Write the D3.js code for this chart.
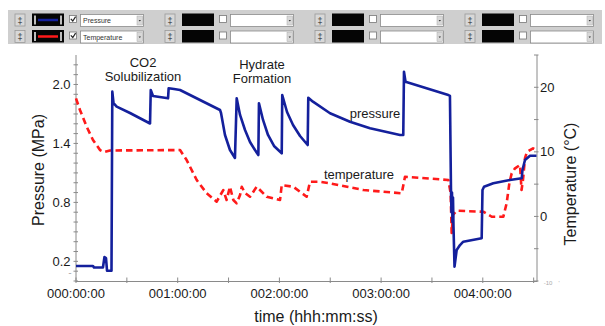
<!DOCTYPE html>
<html>
<head>
<meta charset="utf-8">
<script src="https://cdn.jsdelivr.net/npm/d3@7"></script>
<style>
  body { margin: 0; background: #fff; }
  svg { display: block; font-family: "Liberation Sans", Arial, sans-serif; }
</style>
</head>
<body>
<svg id="chart" width="605" height="326"></svg>
<script>
// pressure trace: hours, MPa
const pressureTime = [0, 0.167, 0.177, 0.265, 0.280, 0.295, 0.305, 0.349, 0.357, 0.369, 0.40, 0.531, 0.728,
  0.735, 0.757, 0.905, 0.911, 0.964, 1.023, 1.416, 1.426, 1.465, 1.514, 1.563,
  1.580, 1.613, 1.662, 1.711, 1.760, 1.793,
  1.799, 1.839, 1.888, 1.947, 2.023,
  2.028, 2.075, 2.134, 2.203, 2.278,
  2.284, 2.330, 2.498, 2.694, 2.891, 3.186, 3.218,
  3.225, 3.240, 3.661, 3.677, 3.687, 3.692, 3.697, 3.702, 3.707, 3.712, 3.722,
  3.743, 3.776, 3.808, 3.989, 3.997, 4.012, 4.103, 4.267, 4.383, 4.390, 4.415, 4.464, 4.528];
const pressureVal = [0.153, 0.153, 0.137, 0.137, 0.244, 0.234, 0.105, 0.105, 1.927, 1.81, 1.774, 1.71, 1.603,
  1.944, 1.883, 1.859, 1.961, 1.954, 1.944, 1.74, 1.71, 1.486, 1.333, 1.252,
  1.86, 1.69, 1.537, 1.415, 1.333, 1.282,
  1.809, 1.639, 1.486, 1.374, 1.30,
  1.893, 1.72, 1.588, 1.476, 1.384,
  1.865, 1.825, 1.707, 1.621, 1.554, 1.486, 1.486,
  2.13, 2.028, 1.893, 1.883, 0.946, 0.70, 0.90, 0.60, 0.85, 0.55, 0.146,
  0.315, 0.366, 0.40, 0.435, 0.926, 0.96, 0.994, 1.028, 1.045, 1.13, 1.231, 1.275, 1.275];

// temperature trace: hours, deg C
const tempTime = [0, 0.039, 0.105, 0.167, 0.236, 0.275, 0.334, 1.023, 1.088, 1.187, 1.285, 1.383,
  1.448, 1.481, 1.514, 1.547, 1.580, 1.613, 1.630, 1.662, 1.711, 1.777, 1.809, 1.875, 2.006,
  2.023, 2.137, 2.268, 2.301, 2.398, 2.498, 2.825, 3.203, 3.235, 3.661, 3.684, 3.694, 3.707,
  3.743, 4.005, 4.088, 4.202, 4.235, 4.261, 4.284, 4.317, 4.366, 4.381, 4.395, 4.415, 4.435, 4.494, 4.528];
const tempVal = [18.29, 16.48, 13.89, 11.83, 10.28, 9.97, 10.21, 10.28, 8.73, 5.64, 3.58, 2.28,
  4.09, 2.54, 4.60, 2.54, 2.03, 3.31, 4.60, 3.62, 3.05, 4.60, 4.09, 3.05, 2.54,
  4.86, 4.60, 3.05, 5.37, 5.37, 5.13, 4.09, 3.58, 6.15, 5.64, 3.58, -2.57, 0.22,
  0.88, 0.73, -0.05, -0.05, 2.08, 5.13, 6.67, 7.45, 7.96, 4.09, 5.64, 9.04, 10.02, 10.55, 10.28];

const xTicks = [0, 0.5, 1, 1.5, 2, 2.5, 3, 3.5, 4, 4.5];
const xLabels = [0, 1, 2, 3, 4];
const pTicks = d3.range(0, 23).map(d => d / 10);
const pLabels = [0.2, 0.8, 1.4, 2.0];
const tTicks = [-10, -5, 0, 5, 10, 15, 20, 25];
const tLabels = [0, 10, 20];

const seriesNames = ["Pressure", "Temperature"];
const seriesColors = ["#14209c", "#ff1a1a"];

const svg = d3.select("#chart");
const ink = "#1a1a1a";
const axisColor = "#8a8a8a";

const x = d3.scaleLinear().domain([0, 4.533]).range([76, 537]);
const yP = d3.scaleLinear().domain([0, 2.3]).range([281, 55]);
const yT = d3.scaleLinear().domain([-10, 25]).range([281, 55]);

// ---- header toolbar ----
const bar = svg.append("g");
bar.append("rect").attr("x", 8).attr("y", 10).attr("width", 594).attr("height", 34).attr("fill", "#cfcfcf");

const groups = [0, 1, 2, 3];
const rows = [0, 1];
groups.forEach(function (gi) {
  rows.forEach(function (ri) {
    let gx = 15 + gi * 150;
    let gy = 14 + ri * 16.5;
    let g = bar.append("g").attr("transform", "translate(" + gx + "," + gy + ")");
    // spinner button
    g.append("rect").attr("x", 0).attr("y", 0).attr("width", 10).attr("height", 12)
      .attr("fill", "#d8d8d8").attr("stroke", "#9a9a9a").attr("stroke-width", 0.8);
    g.append("text").attr("x", 5).attr("y", 9.5).attr("text-anchor", "middle")
      .attr("font-size", 9).attr("fill", "#333").text("\u2021");
    // colour swatch
    g.append("rect").attr("x", 17).attr("y", -0.5).attr("width", 32).attr("height", 12.5).attr("fill", "#050505");
    if (gi === 0) {
      g.append("rect").attr("x", 19).attr("y", 1.5).attr("width", 2).attr("height", 9).attr("fill", "#bdbdbd");
      g.append("rect").attr("x", 45).attr("y", 1.5).attr("width", 2).attr("height", 9).attr("fill", "#bdbdbd");
      g.append("line").attr("x1", 23).attr("x2", 43).attr("y1", 6).attr("y2", 6)
        .attr("stroke", seriesColors[ri]).attr("stroke-width", 2.5);
    }
    // checkbox
    g.append("rect").attr("x", 54.5).attr("y", 1.5).attr("width", 7).attr("height", 7)
      .attr("fill", "#fff").attr("stroke", "#777").attr("stroke-width", 0.8);
    if (gi === 0) {
      g.append("path").attr("d", "M55.8,4.8 L57.8,7 L60.6,2.6").attr("fill", "none")
        .attr("stroke", "#222").attr("stroke-width", 1.2);
    }
    // dropdown
    g.append("rect").attr("x", 65.5).attr("y", 0.5).attr("width", 63).attr("height", 12)
      .attr("fill", "#fff").attr("stroke", "#8a8a8a").attr("stroke-width", 0.8);
    g.append("rect").attr("x", 122).attr("y", 2).attr("width", 5.5).attr("height", 9)
      .attr("fill", "#d8d8d8").attr("stroke", "#aaa").attr("stroke-width", 0.5);
    g.append("path").attr("d", "M123.6,6 L126,6 L124.8,7.6 Z").attr("fill", "#333");
    if (gi === 0) {
      g.append("text").attr("x", 68).attr("y", 9.3).attr("font-size", 7).attr("fill", "#333")
        .text(seriesNames[ri]);
    }
  });
});

// ---- axes ----
const axes = svg.append("g").attr("stroke", axisColor).attr("stroke-width", 1);
axes.append("line").attr("x1", 76).attr("x2", 76).attr("y1", 55).attr("y2", 282);
axes.append("line").attr("x1", 537).attr("x2", 537).attr("y1", 55).attr("y2", 282);
axes.append("line").attr("x1", 76).attr("x2", 537).attr("y1", 281.5).attr("y2", 281.5);

axes.selectAll(".pt").data(pTicks).join("line")
  .attr("x1", 73.5).attr("x2", 78)
  .attr("y1", d => yP(d)).attr("y2", d => yP(d));
axes.selectAll(".tt").data(tTicks).join("line")
  .attr("x1", 534).attr("x2", 538.5)
  .attr("y1", d => yT(d)).attr("y2", d => yT(d));
axes.selectAll(".xt").data(xTicks).join("line")
  .attr("x1", d => x(d)).attr("x2", d => x(d))
  .attr("y1", 277.5).attr("y2", 283);

const fmtHour = h => "00" + h + ":00:00";
svg.append("g").selectAll("text").data(xLabels).join("text")
  .attr("x", d => x(d)).attr("y", 297.5).attr("text-anchor", "middle")
  .attr("font-size", 13).attr("fill", ink).text(fmtHour);

svg.append("g").selectAll("text").data(pLabels).join("text")
  .attr("x", 70.5).attr("y", d => yP(d) + 4.5).attr("text-anchor", "end")
  .attr("font-size", 13).attr("fill", ink).text(d => d.toFixed(1));

svg.append("g").selectAll("text").data(tLabels).join("text")
  .attr("x", 540).attr("y", d => yT(d) + 4.5).attr("text-anchor", "start")
  .attr("font-size", 13).attr("fill", ink).text(d => d);

// clipped leftovers of the bottom tick labels
svg.append("text").attr("x", 70).attr("y", 275).attr("text-anchor", "middle")
  .attr("font-size", 5).attr("fill", "#777").text("~");
svg.append("text").attr("x", 548).attr("y", 285).attr("text-anchor", "middle")
  .attr("font-size", 6).attr("fill", "#aaa").text("-10");
svg.append("text").attr("x", 559).attr("y", 285).attr("text-anchor", "middle")
  .attr("font-size", 6).attr("fill", "#aaa").text("'");

// axis titles
svg.append("text").attr("transform", "translate(44,170) rotate(-90)")
  .attr("text-anchor", "middle").attr("font-size", 16).attr("fill", ink).text("Pressure (MPa)");
svg.append("text").attr("transform", "translate(576,184) rotate(-90)")
  .attr("text-anchor", "middle").attr("font-size", 16).attr("fill", ink).text("Temperature (\u00B0C)");
svg.append("text").attr("x", 316).attr("y", 322).attr("text-anchor", "middle")
  .attr("font-size", 16).attr("fill", ink).text("time (hhh:mm:ss)");

// ---- series ----
const tempLine = d3.line().x(d => x(d[0])).y(d => yT(d[1]));
const presLine = d3.line().x(d => x(d[0])).y(d => yP(d[1]));

svg.append("path").datum(d3.zip(tempTime, tempVal))
  .attr("d", tempLine).attr("fill", "none").attr("stroke", seriesColors[1])
  .attr("stroke-width", 2.6).attr("stroke-dasharray", "6.5,4").attr("stroke-linejoin", "round");

svg.append("path").datum(d3.zip(pressureTime, pressureVal))
  .attr("d", presLine).attr("fill", "none").attr("stroke", seriesColors[0])
  .attr("stroke-width", 2.6).attr("stroke-linejoin", "round");

// ---- annotations ----
const notes = [
  { text: "CO2", x: 143, y: 67 },
  { text: "Solubilization", x: 143, y: 80.5 },
  { text: "Hydrate", x: 262, y: 69 },
  { text: "Formation", x: 262, y: 83 },
  { text: "pressure", x: 375, y: 118 },
  { text: "temperature", x: 359, y: 179 }
];
svg.append("g").selectAll("text").data(notes).join("text")
  .attr("x", d => d.x).attr("y", d => d.y).attr("text-anchor", "middle")
  .attr("font-size", 13).attr("fill", ink).text(d => d.text);
</script>
</body>
</html>
